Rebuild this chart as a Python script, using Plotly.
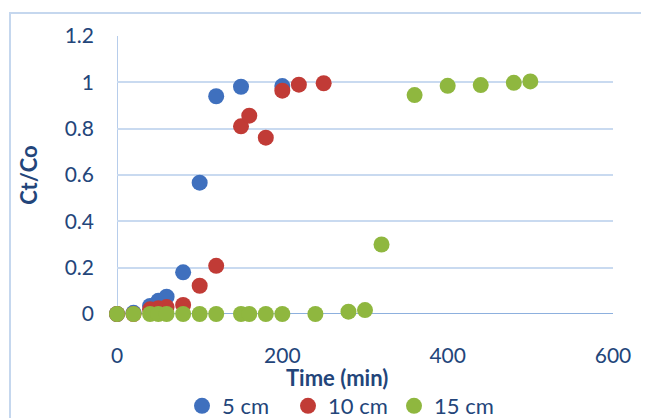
import plotly.graph_objects as go

# Data
t_5 = [0, 20, 40, 50, 60, 80, 100, 120, 150, 200]
c_5 = [0, 0.005, 0.035, 0.057, 0.075, 0.18, 0.567, 0.94, 0.981, 0.984]

t_10 = [0, 20, 40, 50, 60, 80, 100, 120, 150, 160, 180, 200, 220, 250]
c_10 = [0, 0, 0.02, 0.025, 0.03, 0.039, 0.122, 0.208, 0.81, 0.856, 0.761, 0.964, 0.99, 0.996]

t_15 = [0, 20, 40, 50, 60, 80, 100, 120, 150, 160, 180, 200, 240, 280, 300, 320, 360, 400, 440, 480, 500]
c_15 = [0, 0, 0, 0, 0, 0, 0, 0, 0, 0, 0, 0, 0, 0.01, 0.017, 0.30, 0.945, 0.985, 0.988, 0.998, 1.004]

x_ticks = [0, 200, 400, 600]
y_ticks = [0, 0.2, 0.4, 0.6, 0.8, 1, 1.2]
y_labels = ["0", "0.2", "0.4", "0.6", "0.8", "1", "1.2"]
x_title = "Time (min)"
y_title = "Ct/Co"

series = [
    ("5 cm", t_5, c_5, "#3F70BE"),
    ("10 cm", t_10, c_10, "#C13B36"),
    ("15 cm", t_15, c_15, "#8FB73F"),
]

FONT = "Lato"
TXT = "#23457A"

fig = go.Figure()
for name, x, y, col in series:
    fig.add_trace(go.Scatter(
        x=x, y=y, mode="markers", name=name,
        marker=dict(size=16, color=col, line=dict(width=0)),
        cliponaxis=False,
    ))

# page has an 8px body margin, so the figure is drawn 8px smaller and offset
OFF = 8
W, H = 649 - OFF, 418 - OFF
L, R, T, B = 117 - OFF, 36, 36 - OFF, 104
pw = W - L - R
ph = H - T - B

def px_x(p):
    return (p - OFF - L) / pw

def px_y(p):
    return (H - B - (p - OFF)) / ph

fig.update_layout(
    width=W, height=H,
    margin=dict(l=L, r=R, t=T, b=B, autoexpand=False),
    paper_bgcolor="white", plot_bgcolor="white",
    font=dict(family=FONT, size=21, color=TXT),
    showlegend=True,
    legend=dict(
        orientation="h", x=px_x(182), y=px_y(385), xanchor="left", yanchor="top",
        font=dict(family=FONT, size=22, color=TXT),
        entrywidth=61, entrywidthmode="pixels",
        itemwidth=30, tracegroupgap=0, bgcolor="rgba(0,0,0,0)",
    ),
    xaxis=dict(
        range=[0, 600], tickvals=x_ticks, ticktext=[str(v) for v in x_ticks],
        showgrid=False, zeroline=False, showline=False,
        ticks="", ticklabelstandoff=27, automargin=False,
        tickfont=dict(family=FONT, size=21, color=TXT),
        fixedrange=True,
    ),
    yaxis=dict(
        range=[0, 1.2], tickvals=y_ticks, ticktext=y_labels,
        showgrid=True, gridcolor="#C9DAF0", gridwidth=2,
        zeroline=False, showline=False,
        ticks="", ticklabelstandoff=22, automargin=False,
        tickfont=dict(family=FONT, size=21, color=TXT),
        title=dict(text="<b>" + y_title + "</b>", font=dict(family=FONT, size=22, color=TXT), standoff=20),
        fixedrange=True,
    ),
    annotations=[
        dict(text="<b>" + x_title + "</b>", xref="paper", yref="paper",
             x=px_x(337), y=px_y(377), xanchor="center", yanchor="middle",
             showarrow=False, font=dict(family=FONT, size=22, color=TXT)),
    ],
    shapes=[
        dict(type="line", xref="paper", yref="y", x0=0, x1=1, y0=0, y1=0,
             line=dict(color="#8DB0DE", width=2), layer="below"),
        dict(type="line", xref="x", yref="paper", x0=0, x1=0, y0=0, y1=1,
             line=dict(color="#B7CDEB", width=2), layer="below"),
        dict(type="rect", xref="paper", yref="paper",
             x0=px_x(10), x1=px_x(700), y0=px_y(460), y1=px_y(13),
             line=dict(color="#C5D7EE", width=2), layer="below"),
    ],
)

fig.write_html("out.html")
